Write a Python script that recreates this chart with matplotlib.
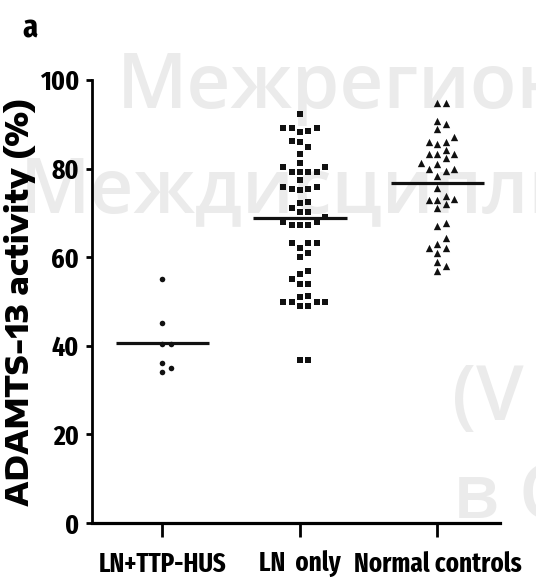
import matplotlib
matplotlib.use('Agg')
import matplotlib.pyplot as plt
import numpy as np

# values (ADAMTS-13 activity, %)
groups = ['LN+TTP-HUS', 'LN  only', 'Normal controls']
ttp_hus = [55.0, 45.2, 40.3, 40.3, 36.2, 35.1, 34.2]
ln_only = [92.3,
           89.1, 89.1, 89.1, 88.2, 88.4, 86.3, 86.1, 84.9, 83.3,
           81.2, 80.4, 80.4, 79.3, 79.3, 79.3, 79.3, 77.4,
           75.8, 75.5, 75.5, 75.1, 75.8,
           72.5, 72.2, 71.1,
           70.3, 70.3, 69.1,
           68.0, 67.3, 67.3, 67.3, 68.0,
           63.1, 63.1, 63.1, 62.1, 60.9, 60.1,
           56.8, 56.3, 55.0, 53.9, 53.9,
           51.1, 50.0, 50.0, 49.0, 49.0, 50.0, 50.0, 51.2,
           36.9, 36.9]
controls = [94.7, 94.7, 90.8, 90.0, 88.9, 87.2, 86.1, 86.1, 85.5, 84.2,
            83.2, 83.2, 83.2, 82.3, 81.0, 81.2, 79.8, 79.8, 79.5, 78.3,
            75.7, 73.8, 72.9, 72.9, 73.1, 71.9, 71.0, 67.8, 67.0, 64.3,
            63.0, 62.1, 62.0, 61.0, 59.0, 58.1, 57.0]
medians = [40.7, 68.8, 76.7]
yticks = [0, 20, 40, 60, 80, 100]

markers = ['o', 's', '^']
sizes = [16, 24, 28]
label_font = 'Fira Sans Extra Condensed'


def swarm(values, step, gap):
    """Prism-like dot layout: each point goes to the nearest free column."""
    values = np.asarray(values)
    cand = [0] + [s * j for j in range(1, 12) for s in (1, -1)]
    placed = {}
    offs = np.zeros(len(values))
    for i in np.argsort(values):
        v = values[i]
        for c in cand:
            if all(abs(v - u) >= gap for u in placed.get(c, [])):
                placed.setdefault(c, []).append(v)
                offs[i] = c * step
                break
    return offs


fig = plt.figure(figsize=(5.36, 5.87), dpi=100)
ax = fig.add_axes([0.1716, 0.109, 0.761, 0.7547])
ax.set_facecolor('none')

# faint watermark behind the chart
wm = dict(color='#ebebeb', family='Open Sans', fontweight='semibold',
          fontsize=55, zorder=-5)
fig.text(117 / 536, 1 - 108 / 587, 'Межрегион', **wm)
fig.text(20 / 536, 1 - 212 / 587, 'Междисципли', **wm)
fig.text(452 / 536, 1 - 420 / 587, '(V', **wm)
fig.text(453 / 536, 1 - 518 / 587, 'в С', **wm)

for i, vals in enumerate([ttp_hus, ln_only, controls]):
    x = i + swarm(vals, 0.061, 1.8)
    ax.scatter(x, vals, marker=markers[i], s=sizes[i], color='#111111',
               linewidths=0, zorder=3)
    ax.hlines(medians[i], i - 0.34, i + 0.34, color='#111111', lw=2.3, zorder=4)

ax.set_xlim(-0.513, 2.455)
ax.set_ylim(0, 100)
ax.set_xticks(range(len(groups)))
ax.set_xticklabels(groups, family=label_font, fontweight='bold', fontsize=19.5)
ax.set_yticks(yticks)
ax.set_yticklabels([str(t) for t in yticks], family=label_font,
                   fontweight='bold', fontsize=20)
ax.tick_params(axis='x', direction='out', length=10, width=2, pad=10)
ax.tick_params(axis='y', direction='out', length=4.3, width=2, pad=5)

for side in ['top', 'right']:
    ax.spines[side].set_visible(False)
ax.spines['left'].set_linewidth(2)
ax.spines['bottom'].set_linewidth(2.3)

ax.set_ylabel('ADAMTS-13 activity (%)', family='Encode Sans Expanded',
              fontweight='heavy', fontsize=21.5)
ax.yaxis.set_label_coords(-0.138, 0.5)

fig.text(22 / 536, 1 - 38 / 587, 'a', family=label_font, fontweight='bold',
         fontsize=24)

fig.savefig('out.png', dpi=100)
